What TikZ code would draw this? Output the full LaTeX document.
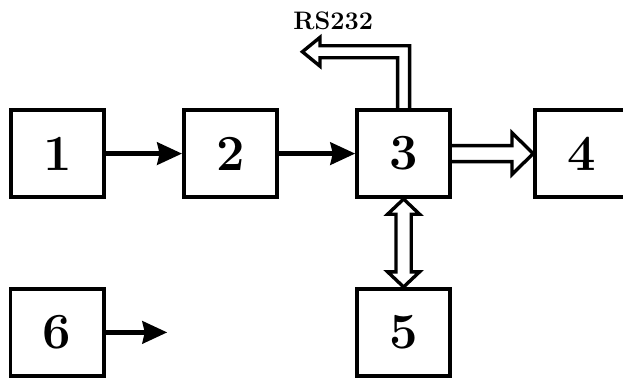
\documentclass[tikz,border=0pt]{standalone}
\usetikzlibrary{arrows.meta,calc}
\tikzset{
  blk/.style={draw=black,fill=white,line width=2.6pt,minimum width=2.33cm,minimum height=2.18cm,
    inner sep=0pt,font=\fontsize{36}{40}\selectfont\bfseries},
  arrow/.style={-{Stealth[length=0.62cm,width=0.56cm,inset=0.06cm]},line width=3pt},
  hollow/.style={draw=black,line width=2.4pt,line join=miter}
}
\begin{document}
\begin{tikzpicture}[x=1cm,y=1cm]
  \useasboundingbox (0,0) rectangle (15.575,-9.475);

  \node[blk] (n1) at (1.44,-3.84) {1};
  \node[blk] (n2) at (5.76,-3.84) {2};
  \node[blk] (n3) at (10.09,-3.84) {3};
  \node[blk] (n4) at (14.54,-3.84) {4};
  \node[blk] (n5) at (10.09,-8.31) {5};
  \node[blk] (n6) at (1.43,-8.31) {6};
  \node[font=\fontsize{18}{20}\selectfont\bfseries] (rs) at (8.33,-0.52) {RS232};
  \coordinate (out6) at (4.18,-8.31);

  % plain arrows
  \draw[arrow] (n1) -- (n2);
  \draw[arrow] (n2) -- (n3);
  \draw[arrow] (n6) -- (out6);

  % hollow arrow to RS232
  \begin{scope}[shift={(n3.north)}]
    \draw[hollow] (-0.15,0) -- (-0.15,1.26) -- (-2.09,1.26) -- (-2.09,1.05) -- (-2.53,1.41)
      -- (-2.09,1.77) -- (-2.09,1.56) -- (0.15,1.56) -- (0.15,0);
  \end{scope}

  % hollow arrow 3 -> 4
  \begin{scope}[shift={(n3.east)}]
    \draw[hollow] (0,0.2) -- (1.5,0.2) -- (1.5,0.52) -- (n4.west) -- (1.5,-0.52)
      -- (1.5,-0.2) -- (0,-0.2);
  \end{scope}

  % hollow double arrow 3 <-> 5
  \begin{scope}[shift={(n3.south)}]
    \draw[hollow] (n3.south) -- (-0.4,-0.38) -- (-0.19,-0.38) -- (-0.19,-1.82) -- (-0.4,-1.82)
      -- (n5.north) -- (0.4,-1.82) -- (0.19,-1.82) -- (0.19,-0.38) -- (0.4,-0.38) -- cycle;
  \end{scope}
\end{tikzpicture}
\end{document}
